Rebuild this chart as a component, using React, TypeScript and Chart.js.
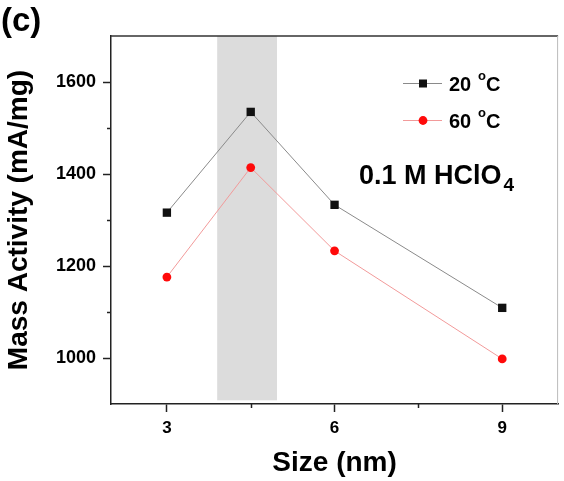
import React, { useEffect, useRef } from 'react';
import { Chart, registerables } from 'chart.js';

Chart.register(...registerables);

const sizes = [3, 4.5, 6, 9];
const activity20C = [1316, 1535, 1333, 1109];
const activity60C = [1176, 1414, 1233, 998];
const seriesTemps = ['20', '60'];
const xTicks = [3, 6, 9];
const xMinorTicks = [4.5, 7.5];
const yTicks = [1000, 1200, 1400, 1600];
const yMinorTicks = [1100, 1300, 1500];
const bandX = [3.9, 4.97];
const bandYBottom = 908;

const FONT = '"Liberation Sans", Arial, Helvetica, sans-serif';

const decorPlugin = {
  id: 'decor',
  beforeDatasetsDraw(chart: any) {
    const { ctx, chartArea, scales } = chart;
    const x0 = scales.x.getPixelForValue(bandX[0]);
    const x1 = scales.x.getPixelForValue(bandX[1]);
    const yb = scales.y.getPixelForValue(bandYBottom);
    ctx.save();
    ctx.fillStyle = '#dcdcdc';
    ctx.fillRect(x0, chartArea.top, x1 - x0, yb - chartArea.top);
    ctx.restore();
  },
  afterDraw(chart: any) {
    const { ctx, chartArea, scales } = chart;
    ctx.save();
    ctx.strokeStyle = '#333';
    ctx.lineWidth = 1.5;
    ctx.beginPath();
    ctx.moveTo(chartArea.left, chartArea.top);
    ctx.lineTo(chartArea.right, chartArea.top);
    ctx.stroke();
    ctx.strokeStyle = '#bbb';
    ctx.lineWidth = 1;
    ctx.beginPath();
    ctx.moveTo(chartArea.right - 0.5, chartArea.top);
    ctx.lineTo(chartArea.right - 0.5, chartArea.bottom);
    ctx.stroke();
    ctx.strokeStyle = '#222';
    ctx.lineWidth = 1.5;
    xMinorTicks.forEach((v) => {
      const px = Math.round(scales.x.getPixelForValue(v)) + 0.5;
      ctx.beginPath();
      ctx.moveTo(px, chartArea.bottom);
      ctx.lineTo(px, chartArea.bottom + 4);
      ctx.stroke();
    });
    yMinorTicks.forEach((v) => {
      const py = Math.round(scales.y.getPixelForValue(v)) + 0.5;
      ctx.beginPath();
      ctx.moveTo(chartArea.left - 4, py);
      ctx.lineTo(chartArea.left, py);
      ctx.stroke();
    });

    ctx.fillStyle = '#000';
    ctx.textBaseline = 'alphabetic';
    ctx.textAlign = 'left';
    ctx.font = `bold 33px ${FONT}`;
    ctx.fillText('(c)', 1, 31);

    const rows = [83, 120];
    chart.data.datasets.forEach((ds: any, i: number) => {
      const y = rows[i];
      ctx.strokeStyle = ds.borderColor;
      ctx.lineWidth = 1;
      ctx.beginPath();
      ctx.moveTo(403, y + 0.5);
      ctx.lineTo(442, y + 0.5);
      ctx.stroke();
      ctx.fillStyle = ds.pointBackgroundColor;
      if (ds.pointStyle === 'rect') {
        ctx.fillRect(419, y - 3.5, 8, 8);
      } else {
        ctx.beginPath();
        ctx.arc(423, y + 0.5, 4.4, 0, Math.PI * 2);
        ctx.fill();
      }
      ctx.fillStyle = '#000';
      ctx.textBaseline = 'alphabetic';
      ctx.font = `bold 20px ${FONT}`;
      const base = y + 7.5;
      ctx.fillText(seriesTemps[i], 449, base);
      ctx.font = `bold 13px ${FONT}`;
      ctx.fillText('o', 478, base - 11);
      ctx.font = `bold 20px ${FONT}`;
      ctx.fillText('C', 486, base);
    });

    ctx.font = `bold 27px ${FONT}`;
    ctx.fillStyle = '#000';
    const t = '0.1 M HClO';
    ctx.fillText(t, 359, 184);
    const w = ctx.measureText(t).width;
    ctx.font = `bold 19px ${FONT}`;
    ctx.fillText('4', 359 + w + 2, 191);
    ctx.restore();
  },
};

export default function App() {
  const ref = useRef<HTMLCanvasElement | null>(null);
  useEffect(() => {
    document.body.style.margin = '0';
    const canvas = ref.current;
    if (!canvas) return;
    const chart = new Chart(canvas, {
      type: 'line',
      data: {
        datasets: [
          {
            label: '20 °C',
            data: sizes.map((x, i) => ({ x, y: activity20C[i] })),
            borderColor: '#8a8a8a',
            borderWidth: 1,
            pointStyle: 'rect',
            pointRadius: 5.9,
            pointBackgroundColor: '#111111',
            pointBorderColor: '#111111',
            pointBorderWidth: 0,
            tension: 0,
          },
          {
            label: '60 °C',
            data: sizes.map((x, i) => ({ x, y: activity60C[i] })),
            borderColor: '#f29a9a',
            borderWidth: 1,
            pointStyle: 'circle',
            pointRadius: 4.4,
            pointBackgroundColor: '#ff0a0a',
            pointBorderColor: '#ff0a0a',
            pointBorderWidth: 0,
            tension: 0,
          },
        ],
      },
      options: {
        responsive: false,
        animation: false,
        devicePixelRatio: 1,
        layout: { padding: { top: 36, right: 1, left: 0, bottom: 0 } },
        plugins: { legend: { display: false }, tooltip: { enabled: false } },
        scales: {
          x: {
            type: 'linear',
            min: 2,
            max: 10,
            afterBuildTicks: (s: any) => {
              s.ticks = xTicks.map((v) => ({ value: v }));
            },
            afterFit: (s: any) => {
              s.height = 77;
            },
            grid: { display: true, drawOnChartArea: false, drawTicks: true, tickLength: 8, tickColor: '#222', tickWidth: 1.5 },
            border: { display: true, color: '#222', width: 1.5 },
            ticks: { color: '#000', font: { family: FONT, size: 17, weight: 'bold' }, padding: 6, maxRotation: 0, callback: (v: any) => String(v) },
            title: { display: true, text: 'Size (nm)', color: '#000', font: { family: FONT, size: 28, weight: 'bold' }, padding: { top: 0, bottom: 1 } },
          },
          y: {
            type: 'linear',
            min: 900,
            max: 1700,
            afterBuildTicks: (s: any) => {
              s.ticks = yTicks.map((v) => ({ value: v }));
            },
            afterFit: (s: any) => {
              s.width = 111;
            },
            grid: { display: true, drawOnChartArea: false, drawTicks: true, tickLength: 8, tickColor: '#222', tickWidth: 1.5 },
            border: { display: true, color: '#222', width: 1.5 },
            ticks: { color: '#000', font: { family: FONT, size: 18, weight: 'bold' }, padding: 7, callback: (v: any) => String(v) },
            title: { display: true, text: 'Mass Activity (mA/mg)', color: '#000', font: { family: FONT, size: 28, weight: 'bold' }, padding: { top: 2, bottom: 0 } },
          },
        },
      },
      plugins: [decorPlugin],
    } as any);
    return () => chart.destroy();
  }, []);
  return <canvas ref={ref} width={564} height={481} style={{ display: 'block', width: 564, height: 481 }} />;
}
